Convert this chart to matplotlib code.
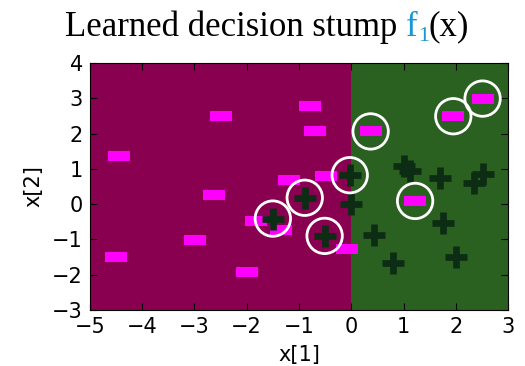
import matplotlib
matplotlib.use('Agg')
import matplotlib.pyplot as plt
from matplotlib.transforms import offset_copy

# training points
neg_x = [-0.78, -2.50, -0.70, -4.44, -1.19, -0.49, -2.62, -1.82, -1.34, -2.99, -4.50, -2.00, -0.09,
         0.37, 1.95, 2.51, 1.22]
neg_y = [2.78, 2.50, 2.08, 1.36, 0.68, 0.80, 0.25, -0.48, -0.73, -1.01, -1.51, -1.92, -1.28,
         2.06, 2.49, 2.99, 0.09]
pos_x = [-1.50, -0.89, -0.51, -0.03, 0.00, 1.01, 1.12, 1.70, 2.51, 2.34, 0.43, 1.76, 0.79, 2.00]
pos_y = [-0.41, 0.18, -0.90, 0.82, 0.00, 1.08, 0.94, 0.75, 0.85, 0.59, -0.88, -0.53, -1.66, -1.49]

# mistakes circled by hand
miss_x = [0.37, 1.95, 2.51, 1.22, -1.50, -0.89, -0.51, -0.03]
miss_y = [2.06, 2.49, 2.99, 0.09, -0.41, 0.18, -0.90, 0.82]

split = 0.0
xlim = (-5, 3)
ylim = (-3, 4)

fig = plt.figure(figsize=(5.25, 3.66), dpi=100)
ax = fig.add_axes([0.171, 0.153, 0.797, 0.675])

ax.axvspan(xlim[0], split, color='#8a0050', lw=0)
ax.axvspan(split, xlim[1], color='#2b6120', lw=0)

rect = [(-1, -0.42), (1, -0.42), (1, 0.42), (-1, 0.42), (-1, -0.42)]
ax.plot(neg_x, neg_y, ls='none', marker=rect, ms=15.5, color='#ff00ff', mew=0)
ax.plot(pos_x, pos_y, ls='none', marker='+', ms=15.5, mew=4.8, color='#0c2c14')
ax.scatter(miss_x, miss_y, s=650, facecolors='none', edgecolors='white', linewidths=2, zorder=5)

ax.set_xlim(xlim)
ax.set_ylim(ylim)
ax.set_xticks(range(-5, 4))
ax.set_yticks(range(-3, 5))
ax.tick_params(direction='in', top=True, right=True, labelsize=15, length=5)
ax.tick_params(axis='x', pad=5)
ax.tick_params(axis='y', pad=5)
ax.set_xlabel('x[1]', fontsize=15, labelpad=6)
ax.set_ylabel('x[2]', fontsize=15, labelpad=6)

# title in pieces so f_1 can be blue
x0, y0 = 0.124, 0.903
tfont = dict(family='Liberation Serif', fontsize=25)
t1 = fig.text(x0, y0, 'Learned decision stump ', va='baseline', ha='left', **tfont)
r = fig.canvas.get_renderer()
w1 = t1.get_window_extent(r).width
t2 = fig.text(x0, y0, 'f', va='baseline', ha='left', color='#1a96d4',
              transform=offset_copy(fig.transFigure, fig, x=w1, y=0, units='dots'), **tfont)
w2 = t2.get_window_extent(r).width
t3 = fig.text(x0, y0, '1', va='baseline', ha='left', color='#1a96d4',
              family='Liberation Serif', fontsize=16,
              transform=offset_copy(fig.transFigure, fig, x=w1 + w2, y=-5, units='dots'))
w3 = t3.get_window_extent(r).width
fig.text(x0, y0, '(x)', va='baseline', ha='left',
         transform=offset_copy(fig.transFigure, fig, x=w1 + w2 + w3, y=0, units='dots'), **tfont)

fig.savefig('out.png', dpi=100)
